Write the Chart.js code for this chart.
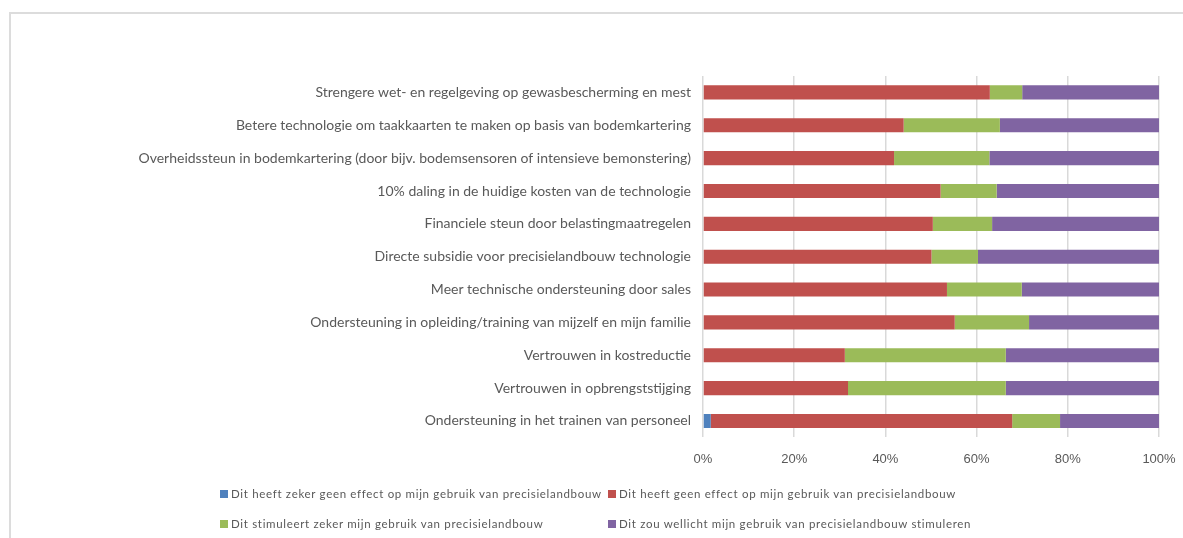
<!DOCTYPE html>
<html>
<head>
<meta charset="utf-8">
<script src="https://cdn.jsdelivr.net/npm/chart.js@4/dist/chart.umd.min.js"></script>
<style>
  html, body { margin: 0; padding: 0; background: #fff; }
  #wrap { position: relative; width: 1183px; height: 538px; overflow: hidden; }
  #frame { position: absolute; left: 9px; top: 12px; width: 1300px; height: 600px;
    border-left: 2px solid #dcdcdc; border-top: 2px solid #dcdcdc; }
  #chart { position: absolute; left: 0; top: 0; }
  .lg { position: absolute; font-family: Lato, sans-serif; font-size: 11.5px; color: #595959;
    letter-spacing: 0.68px; white-space: nowrap; line-height: 12px; }
  .lg i { display: inline-block; width: 8px; height: 8px; margin-right: 3px; vertical-align: -0px; }
</style>
</head>
<body>
<div id="wrap">
  <div id="frame"></div>
  <canvas id="chart" width="1183" height="538"></canvas>
  <div id="legend"></div>
</div>
<script>
const categories = [
  'Strengere wet- en regelgeving op gewasbescherming en mest',
  'Betere technologie om taakkaarten te maken op basis van bodemkartering',
  'Overheidssteun in bodemkartering (door bijv. bodemsensoren of intensieve bemonstering)',
  '10% daling in de huidige kosten van de technologie',
  'Financiele steun door belastingmaatregelen',
  'Directe subsidie voor precisielandbouw technologie',
  'Meer technische ondersteuning door sales',
  'Ondersteuning in opleiding/training van mijzelf en mijn familie',
  'Vertrouwen in kostreductie',
  'Vertrouwen in opbrengststijging',
  'Ondersteuning in het trainen van personeel'
];

const seriesNames = [
  'Dit heeft zeker geen effect op mijn gebruik van precisielandbouw',
  'Dit heeft geen effect op mijn gebruik van precisielandbouw',
  'Dit stimuleert zeker mijn gebruik van precisielandbouw',
  'Dit zou wellicht mijn gebruik van precisielandbouw stimuleren'
];
const seriesColors = ['#4f81bd', '#c0504d', '#9bbb59', '#8064a2'];

const zekerGeenEffect = [0, 0, 0, 0, 0, 0, 0, 0, 0, 0, 1.7];
const geenEffect = [62.9, 44.0, 41.9, 52.1, 50.4, 50.1, 53.5, 55.2, 31.1, 31.8, 66.1];
const stimuleertZeker = [7.1, 21.1, 20.9, 12.3, 13.0, 10.2, 16.4, 16.3, 35.3, 34.6, 10.5];
const wellichtStimuleren = [30.0, 34.9, 37.2, 35.6, 36.6, 39.7, 30.1, 28.5, 33.6, 33.6, 21.7];

const xTicks = [0, 20, 40, 60, 80, 100];

const seriesData = [zekerGeenEffect, geenEffect, stimuleertZeker, wellichtStimuleren];

const chart = new Chart(document.getElementById('chart'), {
  type: 'bar',
  data: {
    labels: categories,
    datasets: seriesData.map((d, i) => ({
      label: seriesNames[i],
      data: d,
      backgroundColor: seriesColors[i],
      borderWidth: 0,
      barPercentage: 0.43,
      categoryPercentage: 1
    }))
  },
  options: {
    indexAxis: 'y',
    responsive: false,
    animation: false,
    layout: { padding: { top: 76, right: 24, bottom: 57, left: 0 } },
    plugins: { legend: { display: false }, tooltip: { enabled: false } },
    scales: {
      x: {
        stacked: true,
        min: 0,
        max: 100,
        afterBuildTicks: (scale) => { scale.ticks = xTicks.map(v => ({ value: v })); },
        afterFit: (scale) => { scale.paddingLeft = 0; scale.paddingRight = 0; },
        grid: { color: '#d9d9d9', lineWidth: 1.5, drawTicks: false },
        border: { display: false },
        ticks: {
          padding: 14,
          color: '#595959',
          font: { family: 'Liberation Sans', size: 13 },
          callback: (v) => v + '%'
        }
      },
      y: {
        stacked: true,
        grid: { display: false, drawTicks: false },
        border: { display: false },
        afterFit: (scale) => { scale.width = 703; },
        ticks: {
          padding: 12,
          color: '#595959',
          font: { family: 'Lato', size: 14 }
        }
      }
    }
  }
});

// legend laid out in two fixed columns like the original
const legendPos = [[220, 488], [608, 488], [220, 518], [608, 518]];
const lg = document.getElementById('legend');
chart.data.datasets.forEach((ds, i) => {
  const el = document.createElement('div');
  el.className = 'lg';
  el.style.left = legendPos[i][0] + 'px';
  el.style.top = legendPos[i][1] + 'px';
  el.innerHTML = '<i style="background:' + ds.backgroundColor + '"></i>' + ds.label;
  lg.appendChild(el);
});
</script>
</body>
</html>
